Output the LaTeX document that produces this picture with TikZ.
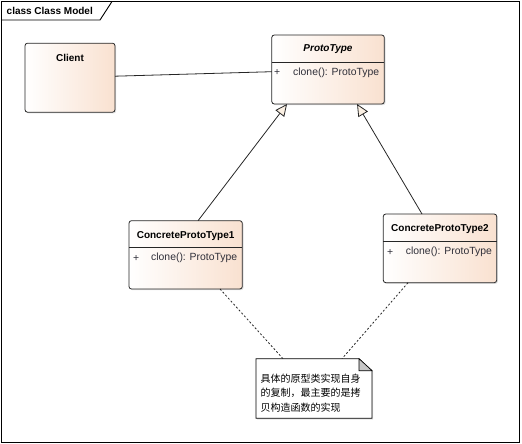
\documentclass[tikz,border=0pt]{standalone}
\usepackage{fontspec}
\setmainfont{Liberation Sans}
\newfontfamily\cjk{Noto Sans CJK SC}
\usetikzlibrary{arrows.meta,shadows}
\definecolor{peach}{HTML}{F9E1D0}
\definecolor{cream}{HTML}{FBF0E3}
\definecolor{attrgray}{HTML}{2E2E38}
\begin{document}
\begin{tikzpicture}[x=1pt,y=-1pt,
  classbox/.style={draw=black!85,line width=0.8pt,rounded corners=2.5pt,left color=white,right color=peach,inner sep=0pt,outer sep=0pt,anchor=north west,drop shadow={shadow xshift=1.2pt,shadow yshift=-1.2pt,opacity=0.3,fill=black!40}},
  ttl/.style={font=\bfseries\fontsize{10}{12}\selectfont,inner sep=0pt},
  ttlit/.style={font=\bfseries\itshape\fontsize{10}{12}\selectfont,inner sep=0pt},
  attr/.style={font=\fontsize{10.4}{12}\selectfont,text=attrgray,inner sep=0pt,anchor=west},
  sepline/.style={draw=black!85,line width=0.8pt},
  gen/.style={draw=black!85,line width=0.8pt,-{Triangle[length=12pt,width=11pt,fill=cream]}},
  notelink/.style={draw=black!85,line width=0.8pt,dash pattern=on 2pt off 2pt},
  assoc/.style={draw=black!85,line width=0.8pt},
  notetxt/.style={font=\cjk\fontsize{10}{12}\selectfont,inner sep=0pt,anchor=west}
]
\useasboundingbox (0,0) rectangle (522,444);
% frame
\draw[line width=0.9pt] (1.5,1.5) rectangle (519,442.5);
\draw[line width=0.9pt] (1.5,20) -- (100,20) -- (112,1.5);
\node[ttl,anchor=west] (framelbl) at (6.5,10.5) {class Class Model};

% Client
\node[classbox,minimum width=90pt,minimum height=69pt] (client) at (25,43.2) {};
\node[ttl] (clientT) at (70,58.3) {Client};

% ProtoType
\node[classbox,minimum width=112.5pt,minimum height=69pt] (proto) at (271.8,35) {};
\node[ttlit] (protoT) at (328,49) {ProtoType};
\draw[sepline] ([yshift=-27.7pt]proto.north west) -- ([yshift=-27.7pt]proto.north east);
\node[attr] (protoP) at (274,72.7) {+};
\node[attr] (protoA) at (293,72.7) {clone(): ProtoType};

% ConcreteProtoType1
\node[classbox,minimum width=113.3pt,minimum height=68.3pt] (cpt1) at (129,220.7) {};
\node[ttl] (cpt1T) at (185.6,235.7) {ConcreteProtoType1};
\draw[sepline] ([yshift=-26.6pt]cpt1.north west) -- ([yshift=-26.6pt]cpt1.north east);
\node[attr] (cpt1P) at (133,258.3) {+};
\node[attr] (cpt1A) at (151,258.3) {clone(): ProtoType};

% ConcreteProtoType2
\node[classbox,minimum width=113.4pt,minimum height=68.7pt] (cpt2) at (383.3,214) {};
\node[ttl] (cpt2T) at (440,229.3) {ConcreteProtoType2};
\draw[sepline] ([yshift=-27.7pt]cpt2.north west) -- ([yshift=-27.7pt]cpt2.north east);
\node[attr] (cpt2P) at (387,252.3) {+};
\node[attr] (cpt2A) at (405.7,252.3) {clone(): ProtoType};

% note
\node[inner sep=0pt,outer sep=0pt,anchor=north west,minimum width=116pt,minimum height=59.6pt] (note) at (256,358.7) {};
\fill[black!30,opacity=0.35] ([xshift=1.2pt,yshift=-1.2pt]note.north west) -- ([xshift=-11.8pt,yshift=-1.2pt]note.north east) -- ([xshift=1.2pt,yshift=-13.2pt]note.north east) -- ([xshift=1.2pt,yshift=-1.2pt]note.south east) -- ([xshift=1.2pt,yshift=-1.2pt]note.south west) -- cycle;
\draw[line width=0.8pt,fill=white] (note.north west) -- ([xshift=-13pt]note.north east) -- ([yshift=-12pt]note.north east) -- (note.south east) -- (note.south west) -- cycle;
\draw[line width=0.6pt,fill=black!22] ([xshift=-13pt]note.north east) -- ([xshift=-13pt,yshift=-12pt]note.north east) -- ([yshift=-12pt]note.north east) -- cycle;
\node[notetxt] (note1) at (260.3,379) {具体的原型类实现自身};
\node[notetxt] (note2) at (260.3,393.3) {的复制，最主要的是拷};
\node[notetxt] (note3) at (260.3,407.3) {贝构造函数的实现};

% connectors
\draw[assoc] ([yshift=1.5pt]client.east) -- ([yshift=-2.2pt]proto.west);
\draw[gen] ([xshift=12.4pt]cpt1.north) -- ([xshift=-41pt]proto.south);
\draw[gen] ([xshift=-18pt]cpt2.north) -- ([xshift=29pt]proto.south);
\draw[notelink] ([xshift=34.4pt]cpt1.south) -- ([xshift=-31pt]note.north);
\draw[notelink] ([xshift=-32pt]cpt2.south) -- ([xshift=28pt]note.north);
\end{tikzpicture}
\end{document}
